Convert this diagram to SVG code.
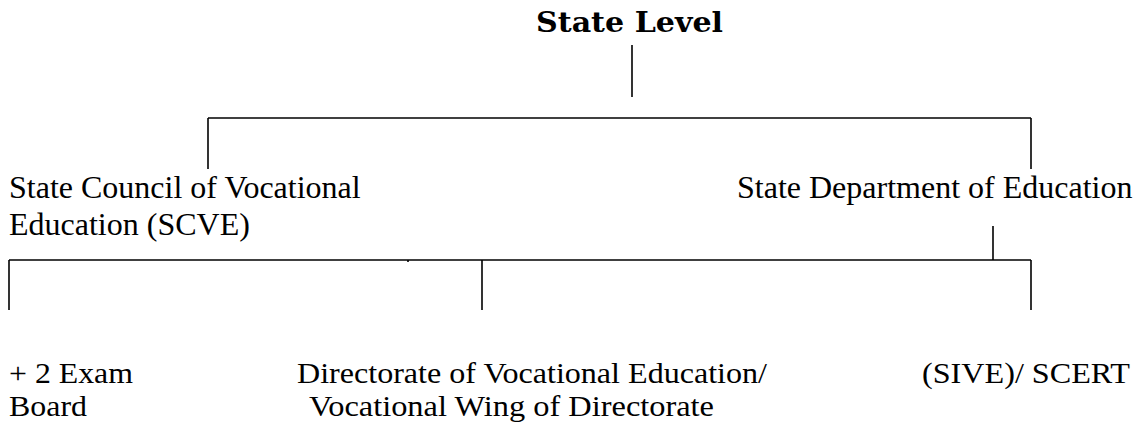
<svg xmlns="http://www.w3.org/2000/svg" width="1138" height="427" viewBox="0 0 1138 427">
<style>
  .t { font-family: "Liberation Serif", "Times New Roman", serif; font-size: 32px; fill: #000; }
  .b { font-family: "Liberation Serif", "Times New Roman", serif; font-size: 30px; fill: #000; }
  .h { font-family: "DejaVu Serif", "Liberation Serif", serif; font-weight: bold; font-size: 28px; fill: #000; }
  .c line { stroke: #000; stroke-width: 1.6; }
</style>
<rect width="1138" height="427" fill="#fff"/>
<g id="state-level"><text class="h" x="536" y="32" textLength="187" lengthAdjust="spacingAndGlyphs">State Level</text></g>
<g id="scve"><text class="t" x="9" y="198">State Council of Vocational</text><text class="t" x="9" y="235">Education (SCVE)</text></g>
<g id="sde"><text class="t" x="737" y="198">State Department of Education</text></g>
<g id="exam-board"><text class="b" x="9" y="383" textLength="124" lengthAdjust="spacingAndGlyphs">+ 2 Exam</text><text class="b" x="9" y="416" textLength="78" lengthAdjust="spacingAndGlyphs">Board</text></g>
<g id="directorate"><text class="b" x="297" y="383" textLength="470" lengthAdjust="spacingAndGlyphs">Directorate of Vocational Education/</text><text class="b" x="309" y="416" textLength="405" lengthAdjust="spacingAndGlyphs">Vocational Wing of Directorate</text></g>
<g id="sive"><text class="b" x="922" y="383" textLength="208" lengthAdjust="spacingAndGlyphs">(SIVE)/ SCERT</text></g>
<g id="connectors" class="c">
  <line x1="632" y1="45" x2="632" y2="97"/>
  <line x1="208" y1="118" x2="1031" y2="118"/>
  <line x1="208" y1="118" x2="208" y2="169"/>
  <line x1="1031" y1="118" x2="1031" y2="169"/>
  <line x1="993" y1="226" x2="993" y2="260"/>
  <line x1="9" y1="260" x2="1031" y2="260"/>
  <line x1="9" y1="260" x2="9" y2="310"/>
  <line x1="482" y1="260" x2="482" y2="310"/>
  <line x1="1031" y1="260" x2="1031" y2="310"/>
  <line x1="408" y1="260" x2="408" y2="262"/>
</g>
</svg>
